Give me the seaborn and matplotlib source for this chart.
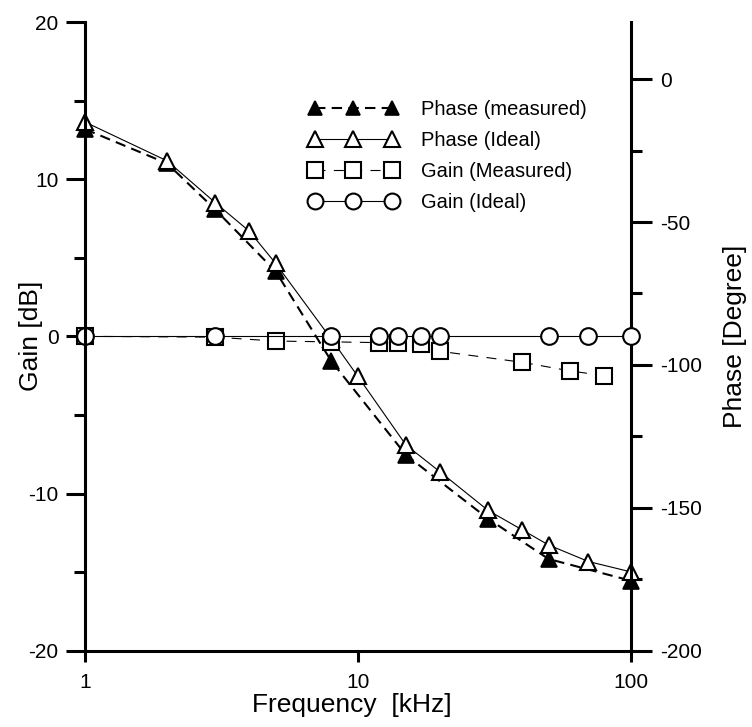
import matplotlib
matplotlib.use("Agg")
import matplotlib.pyplot as plt
from matplotlib.ticker import FixedLocator, NullLocator, FixedFormatter
import seaborn as sns

# Frequency response data (frequency in kHz)
freq_phase_meas = [1, 2, 3, 5, 8, 15, 30, 50, 100]
phase_meas = [-17.5, -29.5, -45.6, -67.3, -98.7, -131.5, -153.8, -167.9, -175.5]

freq_phase_ideal = [1, 2, 3, 4, 5, 8, 10, 15, 20, 30, 40, 50, 70, 100]
phase_ideal = [-15.0, -28.6, -43.2, -53.2, -64.5, -91.0, -104.0, -128.0,
               -137.4, -150.9, -157.7, -163.0, -168.8, -172.4]

freq_gain_meas = [1, 3, 5, 8, 12, 14, 17, 20, 40, 60, 80]
gain_meas = [0.0, -0.05, -0.3, -0.35, -0.4, -0.4, -0.5, -0.95, -1.65, -2.2, -2.5]

freq_gain_ideal = [1, 3, 8, 12, 14, 17, 20, 50, 70, 100]
gain_ideal = [0, 0, 0, 0, 0, 0, 0, 0, 0, 0]

labels = ["Phase (measured)", "Phase (Ideal)", "Gain (Measured)", "Gain (Ideal)"]
x_ticks = [1, 10, 100]
x_tick_labels = ["1", "10", "100"]
gain_ticks = [-20, -10, 0, 10, 20]
phase_ticks = [-200, -150, -100, -50, 0]

sns.set_style("ticks")
plt.rcParams["font.family"] = ["Liberation Sans", "DejaVu Sans"]
plt.rcParams["axes.unicode_minus"] = False
plt.rcParams["text.color"] = "black"
plt.rcParams["axes.labelcolor"] = "black"
plt.rcParams["xtick.color"] = "black"
plt.rcParams["ytick.color"] = "black"

W, H = 752, 727
fig = plt.figure(figsize=(W / 100, H / 100), dpi=100)
x0, x1, ytop, ybot = 85, 630.7, 22, 650.7
ax = fig.add_axes([x0 / W, (H - ybot) / H, (x1 - x0) / W, (ybot - ytop) / H])
ax2 = ax.twinx()

# gain curves sit above the phase curves
ax.set_zorder(ax2.get_zorder() + 1)
ax.patch.set_visible(False)

common = dict(estimator=None, sort=False, legend=False, color="black", clip_on=False)

# Phase (right axis)
sns.lineplot(x=freq_phase_meas, y=phase_meas, ax=ax2, marker="^", markersize=11,
             markerfacecolor="black", markeredgecolor="black", markeredgewidth=1.2,
             linewidth=1.5, label=labels[0], **common)
l_pm = ax2.lines[-1]
l_pm.set_dashes([5, 3])
sns.lineplot(x=freq_phase_ideal, y=phase_ideal, ax=ax2, marker="^", markersize=12,
             markerfacecolor="white", markeredgecolor="black", markeredgewidth=1.5,
             linewidth=0.8, label=labels[1], **common)
l_pi = ax2.lines[-1]

# Gain (left axis)
sns.lineplot(x=freq_gain_meas, y=gain_meas, ax=ax, marker="s", markersize=12,
             markerfacecolor="white", markeredgecolor="black", markeredgewidth=1.5,
             linewidth=0.8, label=labels[2], **common)
l_gm = ax.lines[-1]
l_gm.set_dashes([9, 7.5])
sns.lineplot(x=freq_gain_ideal, y=gain_ideal, ax=ax, marker="o", markersize=12,
             markerfacecolor="white", markeredgecolor="black", markeredgewidth=1.5,
             linewidth=0.8, label=labels[3], **common)
l_gi = ax.lines[-1]

for a in (ax, ax2):
    lg = a.get_legend()
    if lg is not None:
        lg.remove()

ax.set_xscale("log")
ax.set_xlim(1, 100)
ax.set_ylim(-20, 20)
ax2.set_ylim(-200, 20)

ax.xaxis.set_major_locator(FixedLocator(x_ticks))
ax.xaxis.set_major_formatter(FixedFormatter(x_tick_labels))
ax.xaxis.set_minor_locator(NullLocator())
ax.yaxis.set_major_locator(FixedLocator(gain_ticks))
ax.yaxis.set_minor_locator(FixedLocator([-15, -5, 5, 15]))
ax2.yaxis.set_major_locator(FixedLocator(phase_ticks))
ax2.yaxis.set_minor_locator(FixedLocator([-175, -125, -75, -25]))

lw = 2.2
for a in (ax, ax2):
    for s in a.spines.values():
        s.set_visible(False)
        s.set_linewidth(lw)
        s.set_color("black")
ax.spines["left"].set_visible(True)
ax.spines["bottom"].set_visible(True)
ax2.spines["right"].set_visible(True)

ax.tick_params(axis="x", which="major", direction="out", length=8, width=lw,
               labelsize=15, pad=8, colors="black")
ax.tick_params(axis="y", which="major", direction="out", length=14, width=lw,
               labelsize=15, pad=5, colors="black")
ax.tick_params(axis="y", which="minor", direction="out", length=8, width=lw)
ax2.tick_params(axis="y", which="major", direction="out", length=15, width=lw,
                labelsize=15, pad=6, colors="black")
ax2.tick_params(axis="y", which="minor", direction="out", length=8, width=lw)

ax.set_xlabel("Frequency  [kHz]", fontsize=19, color="black")
ax.set_ylabel("Gain [dB]", fontsize=19, color="black")
ax2.set_ylabel("Phase [Degree]", fontsize=19, color="black")
ax.xaxis.set_label_coords((352 - x0) / (x1 - x0), (ybot - 693) / (ybot - ytop))
ax.yaxis.set_label_coords((43 - x0) / (x1 - x0), 0.5)
ax2.yaxis.set_label_coords((723 - x0) / (x1 - x0), 0.5)

leg = ax.legend(handles=[l_pm, l_pi, l_gm, l_gi], labels=labels, loc="upper left",
                bbox_to_anchor=(309 / W, (H - 100) / H), bbox_transform=fig.transFigure,
                frameon=False, numpoints=3, handlelength=4.4, handletextpad=1.15,
                fontsize=14.5, borderpad=0, borderaxespad=0, labelspacing=0.6,
                markerscale=0.95)

fig.savefig("out.png", dpi=100)
